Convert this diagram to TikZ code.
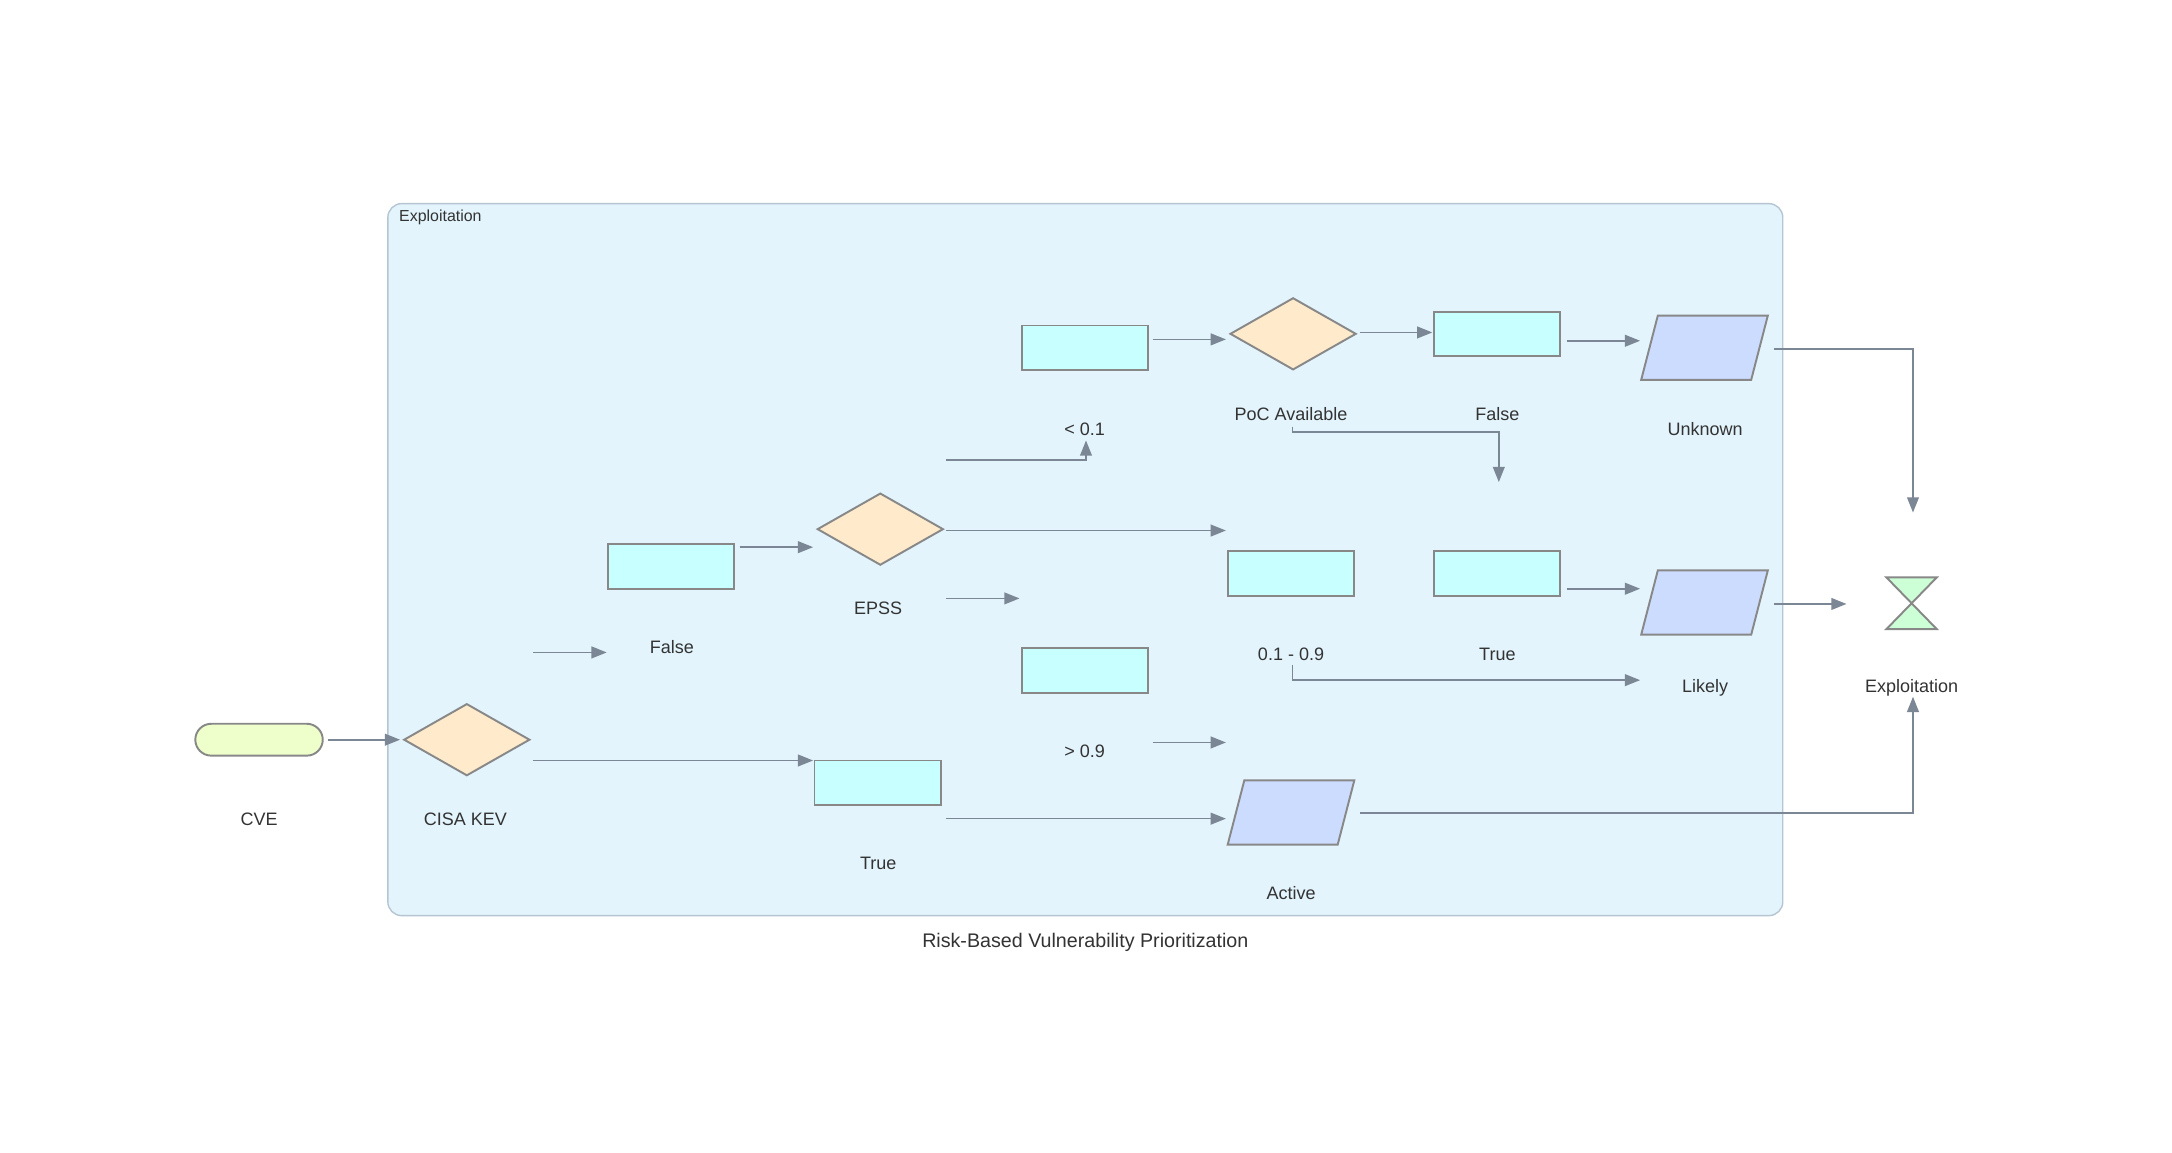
\documentclass[tikz,border=0pt]{standalone}
\usepackage{fontspec}
\setmainfont{Liberation Sans}
\usetikzlibrary{shapes.geometric,arrows.meta,calc}
\definecolor{clfill}{HTML}{E3F4FC}
\definecolor{clborder}{HTML}{B5C5D2}
\definecolor{rectfill}{HTML}{C8FFFF}
\definecolor{diafill}{HTML}{FFEBCC}
\definecolor{parafill}{HTML}{CCDCFF}
\definecolor{hgfill}{HTML}{CCFFD6}
\definecolor{pillfill}{HTML}{EEFFCC}
\definecolor{nodeborder}{HTML}{888888}
\definecolor{arrowcol}{HTML}{7B8794}
\definecolor{textcol}{HTML}{333333}
\begin{document}
\begin{tikzpicture}[x=1pt,y=-1pt,
  box/.style={rectangle, draw=nodeborder, line width=1.4pt, fill=rectfill, minimum width=91pt, minimum height=32pt, inner sep=0pt},
  dec/.style={diamond, draw=nodeborder, line width=1.4pt, fill=diafill, minimum width=91pt, minimum height=52pt, inner sep=0pt},
  parabox/.style={rectangle, minimum width=91pt, minimum height=46pt, inner sep=0pt},
  parashape/.style={draw=nodeborder, line width=1.4pt, fill=parafill},
  pill/.style={rectangle, rounded corners=11.5pt, draw=nodeborder, line width=1.4pt, fill=pillfill, minimum width=92pt, minimum height=23pt, inner sep=0pt},
  hgbox/.style={rectangle, minimum width=36pt, minimum height=37pt, inner sep=0pt},
  lbl/.style={text=textcol, font=\fontsize{13}{15}\selectfont, inner sep=0pt, text height=9.3pt, text depth=0pt},
  conn/.style={draw=arrowcol, line width=1.2pt, -{Triangle[length=11pt,width=8.5pt]}},
]
\useasboundingbox (0,0) rectangle (1568,832);
\fill[white] (0,0) rectangle (1568,832);

% cluster
\draw[fill=clfill, draw=clborder, line width=1pt, rounded corners=10pt] (280,147) rectangle (1287,661);
\node[anchor=west, text=textcol, font=\fontsize{11.5}{13}\selectfont, inner sep=0pt, text height=8.2pt, text depth=0pt] (cltitle) at (288,156) {Exploitation};
\node[text=textcol, font=\fontsize{14.2}{16}\selectfont, inner sep=0pt, text height=10.2pt, text depth=0pt] (title) at (783.5,679) {Risk-Based Vulnerability Prioritization};

% shapes
\node[pill] (cve) at (187,534) {};
\node[dec] (kev) at (337,534) {};
\node[box] (kfalse) at (484.5,409) {};
\node[dec] (epss) at (635.5,382) {};
\node[box] (ktrue) at (633.5,565) {};
\node[box] (lo) at (783,251) {};
\node[box] (hi) at (783,484) {};
\node[box] (mid) at (932,414) {};
\node[dec] (poc) at (933.5,241) {};
\node[box] (pfalse) at (1081,241) {};
\node[box] (ptrue) at (1081,414) {};
\node[parabox] (unknown) at (1230.5,251) {};
\node[parabox] (likely) at (1230.5,435) {};
\node[parabox] (active) at (932,586.5) {};
\foreach \p in {unknown,likely,active}{
  \draw[parashape] (\p.south west) -- ($(\p.north west)+(12,0)$) -- (\p.north east) -- ($(\p.south east)+(-12,0)$) -- cycle;
}
\node[hgbox] (expl) at (1380,435.5) {};
\draw[draw=nodeborder, line width=1.4pt, fill=hgfill]
  (expl.north west) -- (expl.north east) -- (expl.south west) -- (expl.south east) -- cycle;

% labels
\node[lbl] (lcve) at (187,591) {CVE};
\node[lbl] (lkev) at (336,591) {CISA KEV};
\node[lbl] (lkfalse) at (485,467) {False};
\node[lbl] (lepss) at (634,439) {EPSS};
\node[lbl] (lktrue) at (634,623) {True};
\node[lbl] (llo) at (783,310) {< 0.1};
\node[lbl] (lhi) at (783,542) {> 0.9};
\node[lbl] (lmid) at (932,472) {0.1 - 0.9};
\node[lbl] (lpoc) at (932,299) {PoC Available};
\node[lbl] (lpfalse) at (1081,299) {False};
\node[lbl] (lptrue) at (1081,472) {True};
\node[lbl] (lunknown) at (1231,310) {Unknown};
\node[lbl] (llikely) at (1231,495) {Likely};
\node[lbl] (lactive) at (932,645) {Active};
\node[lbl] (lexpl) at (1380,495) {Exploitation};

% connector end points
\coordinate (b1) at (385,471); \coordinate (b2) at (438,471);
\coordinate (c1) at (385,549); \coordinate (c2) at (587,549);
\coordinate (d1) at (534,395); \coordinate (d2) at (587,395);
\coordinate (e1) at (683,332); \coordinate (e2) at (784,332); \coordinate (e3) at (784,318);
\coordinate (f1) at (683,383); \coordinate (f2) at (885,383);
\coordinate (g1) at (683,432); \coordinate (g2) at (736,432);
\coordinate (h1) at (832,245); \coordinate (h2) at (885,245);
\coordinate (i1) at (982,240); \coordinate (i2) at (1034,240);
\coordinate (j1) at (933,308); \coordinate (j2) at (933,312); \coordinate (j3) at (1082,312); \coordinate (j4) at (1082,348);
\coordinate (k1) at (1131,246); \coordinate (k2) at (1184,246);
\coordinate (l1) at (1281,252); \coordinate (l2) at (1381,252); \coordinate (l3) at (1381,370);
\coordinate (m1) at (1131,425); \coordinate (m2) at (1184,425);
\coordinate (n1) at (933,480); \coordinate (n2) at (933,491); \coordinate (n3) at (1184,491);
\coordinate (o1) at (1281,436); \coordinate (o2) at (1333,436);
\coordinate (p1) at (832,536); \coordinate (p2) at (885,536);
\coordinate (q1) at (683,591); \coordinate (q2) at (885,591);
\coordinate (r1) at (982,587); \coordinate (r2) at (1381,587); \coordinate (r3) at (1381,503);

% connectors
\draw[conn, shorten <=3pt, shorten >=2pt] (cve.east) -- (kev.west);
\draw[conn] (b1) -- (b2);
\draw[conn] (c1) -- (c2);
\draw[conn] (d1) -- (d2);
\draw[conn] (e1) -- (e2) -- (e3);
\draw[conn] (f1) -- (f2);
\draw[conn] (g1) -- (g2);
\draw[conn] (h1) -- (h2);
\draw[conn] (i1) -- (i2);
\draw[conn] (j1) -- (j2) -- (j3) -- (j4);
\draw[conn] (k1) -- (k2);
\draw[conn] (l1) -- (l2) -- (l3);
\draw[conn] (m1) -- (m2);
\draw[conn] (n1) -- (n2) -- (n3);
\draw[conn] (o1) -- (o2);
\draw[conn] (p1) -- (p2);
\draw[conn] (q1) -- (q2);
\draw[conn] (r1) -- (r2) -- (r3);
\end{tikzpicture}
\end{document}
